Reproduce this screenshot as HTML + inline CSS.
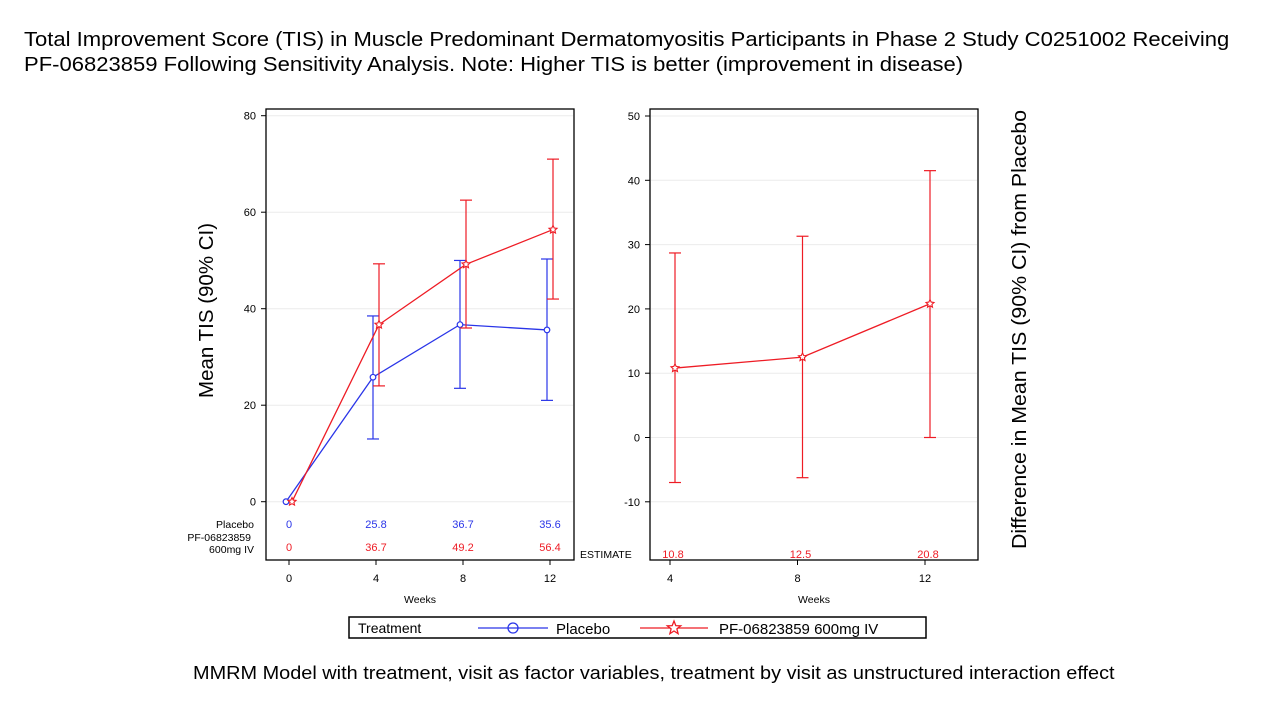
<!DOCTYPE html>
<html><head><meta charset="utf-8"><style>
body{margin:0;width:1280px;height:720px;background:#fff;overflow:hidden;font-family:"Liberation Sans",sans-serif}
.t{position:absolute;white-space:nowrap;color:#000;transform-origin:0 0}
</style></head><body>
<div class="t" style="left:24px;top:27px;font-size:20.5px;line-height:25px;transform:scaleX(1.075)">Total Improvement Score (TIS) in Muscle Predominant Dermatomyositis Participants in Phase 2 Study C0251002 Receiving<br>PF-06823859 Following Sensitivity Analysis. Note: Higher TIS is better (improvement in disease)</div>
<div class="t" style="left:193px;top:663px;font-size:18px;transform:scaleX(1.105)">MMRM Model with treatment, visit as factor variables, treatment by visit as unstructured interaction effect</div>
<svg id="c" width="1280" height="720" style="position:absolute;left:0;top:0"></svg>
<script>
const weeks=[0,4,8,12];
const placeboMean=[0,25.8,36.7,35.6];
const placeboLo=[null,13,23.5,21];
const placeboHi=[null,38.5,50,50.3];
const drugMean=[0,36.7,49.2,56.4];
const drugLo=[null,24,36,42];
const drugHi=[null,49.3,62.5,71];
const leftTicks=[0,20,40,60,80];
const diffWeeks=[4,8,12];
const diffMean=[10.8,12.5,20.8];
const diffLo=[-7.0,-6.25,0];
const diffHi=[28.7,31.3,41.5];
const rightTicks=[-10,0,10,20,30,40,50];

const svg=document.getElementById('c');
const NS='http://www.w3.org/2000/svg';
function el(tag,attrs,name,parent){const e=document.createElementNS(NS,tag);for(const k in attrs)e.setAttribute(k,attrs[k]);


(parent||svg).appendChild(e);return e;}
function txt(x,y,s,name,opt){const e=el('text',Object.assign({x:x,y:y,'font-size':11,'font-family':'Liberation Sans, sans-serif',fill:'#000'},opt||{}),name);e.textContent=s;return e;}
const BLUE='#2a35e8',RED='#ee1c25';
function star(x,y,name){let p=[];for(let i=0;i<10;i++){const r=i%2?2:4.2,a=-Math.PI/2+i*Math.PI/5;p.push((x+r*Math.cos(a)).toFixed(1)+','+(y+r*Math.sin(a)).toFixed(1));}
el('polygon',{points:p.join(' '),fill:'#fff',stroke:RED,'stroke-width':1.1},name);}

// LEFT
const lx=w=>289+w*87/4, ly=v=>501.7-v*96.5/20;
leftTicks.forEach(t=>{el('line',{x1:267,x2:573,y1:ly(t),y2:ly(t),stroke:'#ececec'},'gridline-left');
el('line',{x1:261,x2:266,y1:ly(t),y2:ly(t),stroke:'#000'},'y-tick-left');
txt(256,ly(t)+4,String(t),'y-tick-label-left',{'text-anchor':'end'});});
el('rect',{x:266,y:109,width:308,height:451,fill:'none',stroke:'#000','stroke-width':1.3},'plot-frame-left');
weeks.forEach(w=>{el('line',{x1:lx(w),x2:lx(w),y1:560,y2:565,stroke:'#000'},'x-tick-left');txt(lx(w),582,String(w),'x-tick-label-left',{'text-anchor':'middle'});});
txt(420,603,'Weeks','x-axis-title-left',{'text-anchor':'middle','font-size':10.5});
txt(213,398,'Mean TIS (90% CI)','y-axis-title-left',{'font-size':20.5,transform:'rotate(-90 213 398)'});
function series(mean,lo,hi,col,off,name,mk){
 el('polyline',{points:weeks.map((w,i)=>(lx(w)+off)+','+ly(mean[i])).join(' '),fill:'none',stroke:col,'stroke-width':1.3},name+'-line');
 weeks.forEach((w,i)=>{const x=lx(w)+off;if(lo[i]!=null){el('line',{x1:x,x2:x,y1:ly(lo[i]),y2:ly(hi[i]),stroke:col,'stroke-width':1.2},name+'-errorbar');
 [lo[i],hi[i]].forEach(v=>el('line',{x1:x-6,x2:x+6,y1:ly(v),y2:ly(v),stroke:col,'stroke-width':1.2},name+'-errorcap'));}
 if(mk==='c')el('circle',{cx:x,cy:ly(mean[i]),r:2.8,fill:'#fff',stroke:col,'stroke-width':1.2},name+'-point');else star(x,ly(mean[i]),name+'-point');});}
series(placeboMean,placeboLo,placeboHi,BLUE,-3,'placebo','c');
series(drugMean,drugLo,drugHi,RED,3,'drug','s');
txt(254,528,'Placebo','table-label-placebo',{'text-anchor':'end','font-size':10.5});
txt(251,541,'PF-06823859','table-label-drug',{'text-anchor':'end','font-size':10.5});
txt(254,553,'600mg IV','table-label-drug2',{'text-anchor':'end','font-size':10.5});
weeks.forEach((w,i)=>{txt(lx(w),528,String(placeboMean[i]),'placebo-value',{'text-anchor':'middle',fill:BLUE});
txt(lx(w),551,String(drugMean[i]),'drug-value',{'text-anchor':'middle',fill:RED});});

// RIGHT
const rx=w=>670+(w-4)*127.5/4, ry=v=>437.5-v*6.43;
rightTicks.forEach(t=>{el('line',{x1:651,x2:977,y1:ry(t),y2:ry(t),stroke:'#ececec'},'gridline-right');
el('line',{x1:645,x2:650,y1:ry(t),y2:ry(t),stroke:'#000'},'y-tick-right');
txt(640,ry(t)+4,String(t),'y-tick-label-right',{'text-anchor':'end'});});
el('rect',{x:650,y:109,width:328,height:451,fill:'none',stroke:'#000','stroke-width':1.3},'plot-frame-right');
diffWeeks.forEach(w=>{el('line',{x1:rx(w),x2:rx(w),y1:560,y2:565,stroke:'#000'},'x-tick-right');txt(rx(w),582,String(w),'x-tick-label-right',{'text-anchor':'middle'});});
txt(814,603,'Weeks','x-axis-title-right',{'text-anchor':'middle','font-size':10.5});
txt(1026,549,'Difference in Mean TIS (90% CI) from Placebo','y-axis-title-right',{'font-size':20,textLength:439,lengthAdjust:'spacingAndGlyphs',transform:'rotate(-90 1026 549)'});
el('polyline',{points:diffWeeks.map((w,i)=>(rx(w)+5)+','+ry(diffMean[i])).join(' '),fill:'none',stroke:RED,'stroke-width':1.3},'difference-line');
diffWeeks.forEach((w,i)=>{const x=rx(w)+5;el('line',{x1:x,x2:x,y1:ry(diffLo[i]),y2:ry(diffHi[i]),stroke:RED,'stroke-width':1.2},'difference-errorbar');
[diffLo[i],diffHi[i]].forEach(v=>el('line',{x1:x-6,x2:x+6,y1:ry(v),y2:ry(v),stroke:RED,'stroke-width':1.2},'difference-errorcap'));
star(x,ry(diffMean[i]),'difference-point');
txt(rx(w)+3,558,String(diffMean[i]),'estimate-value',{'text-anchor':'middle',fill:RED});});
txt(580,558,'ESTIMATE','estimate-label',{'font-size':10.5});

// LEGEND
el('rect',{x:349,y:617,width:577,height:21,fill:'#fff',stroke:'#000','stroke-width':1.5},'legend-box');
txt(358,633,'Treatment','legend-title',{'font-size':14});
el('line',{x1:478,x2:548,y1:628,y2:628,stroke:BLUE,'stroke-width':1.3},'legend-placebo-line');
el('circle',{cx:513,cy:628,r:5,fill:'none',stroke:BLUE,'stroke-width':1.3},'legend-placebo-marker');
txt(556,634,'Placebo','legend-placebo-label',{'font-size':15});
el('line',{x1:640,x2:708,y1:628,y2:628,stroke:RED,'stroke-width':1.3},'legend-drug-line');
(function(){let p=[];for(let i=0;i<10;i++){const r=i%2?3:7,a=-Math.PI/2+i*Math.PI/5;p.push((674+r*Math.cos(a)).toFixed(1)+','+(628+r*Math.sin(a)).toFixed(1));}
el('polygon',{points:p.join(' '),fill:'#fff',stroke:RED,'stroke-width':1.3},'legend-drug-marker');})();
txt(719,634,'PF-06823859 600mg IV','legend-drug-label',{'font-size':15});
</script>
</body></html>
